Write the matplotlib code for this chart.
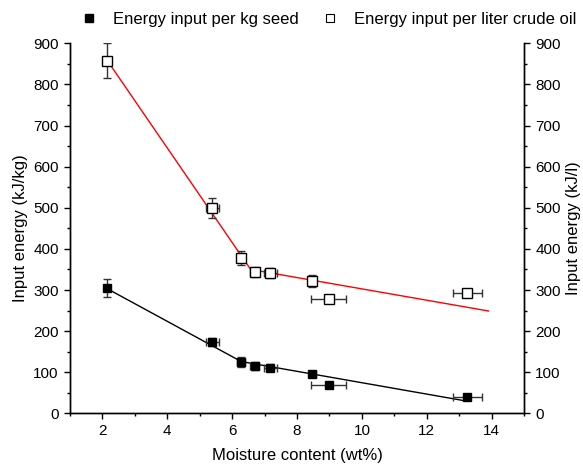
import matplotlib
matplotlib.use("Agg")
from matplotlib import pyplot as plt
from matplotlib.lines import Line2D
from matplotlib.ticker import MultipleLocator

plt.rcParams['font.family'] = ['Liberation Sans', 'DejaVu Sans']

# moisture content of the seed samples (wt%)
moisture = [2.13, 5.38, 6.28, 6.69, 7.17, 8.47, 8.97, 13.25]
moisture_err = [0.05, 0.2, 0.12, 0.15, 0.2, 0.1, 0.55, 0.45]

# energy input per kg seed (kJ/kg)
energy_kg = [304, 174, 125, 116, 111, 96, 69, 40]
energy_kg_err = [22, 10, 12, 10, 9, 7, 5, 5]

# energy input per liter crude oil (kJ/l)
energy_l = [858, 500, 378, 344, 342, 322, 277, 292]
energy_l_err = [43, 25, 17, 12, 12, 14, 8, 8]

# piecewise linear fits
fit_kg_x = [2.13, 6.28, 13.14]
fit_kg_y = [304, 126, 31]
fit_l_x = [2.1, 6.57, 13.9]
fit_l_y = [864, 350, 249]

fig = plt.figure(figsize=(5.83, 4.66), dpi=100)
ax = fig.add_axes([0.120, 0.113, 0.779, 0.794])
ax2 = ax.twinx()

ax.plot(fit_kg_x, fit_kg_y, color="black", lw=1, zorder=2)
ax.errorbar(moisture, energy_kg, yerr=energy_kg_err, xerr=moisture_err,
            fmt="s", ms=6, mfc="black", mec="black", ecolor="#333333",
            elinewidth=1, capsize=3, capthick=1, zorder=3)

ax2.plot(fit_l_x, fit_l_y, color="red", lw=1, zorder=2)
ax2.errorbar(moisture, energy_l, yerr=energy_l_err, xerr=moisture_err,
             fmt="s", ms=7.5, mfc="white", mec="black", mew=1, ecolor="#333333",
             elinewidth=1, capsize=3, capthick=1, zorder=3)

for a in (ax, ax2):
    a.set_ylim(0, 900)
    a.yaxis.set_major_locator(MultipleLocator(100))
    a.yaxis.set_minor_locator(MultipleLocator(50))
    a.spines["top"].set_visible(False)
    a.tick_params(which="major", direction="out", length=4.5, width=1, labelsize=11)
    a.tick_params(which="minor", direction="out", length=2.5, width=1)
    for s in a.spines.values():
        s.set_linewidth(1)

ax.set_xlim(1, 15)
ax.xaxis.set_major_locator(MultipleLocator(2))
ax.xaxis.set_minor_locator(MultipleLocator(1))
ax2.set_xlim(1, 15)

ax.set_xlabel("Moisture content (wt%)", fontsize=12, labelpad=7)
ax.set_ylabel("Input energy (kJ/kg)", fontsize=12, labelpad=4)
ax2.set_ylabel("Input energy (kJ/l)", fontsize=12, labelpad=4)

handles = [
    Line2D([], [], ls="none", marker="s", ms=6, mfc="black", mec="black"),
    Line2D([], [], ls="none", marker="s", ms=6, mfc="white", mec="black", mew=0.8),
]
fig.legend(handles, ["Energy input per kg seed", "Energy input per liter crude oil"],
           ncol=2, loc="center", bbox_to_anchor=(0.562, 0.959), frameon=False,
           fontsize=12, handletextpad=0.85, columnspacing=1.3, handlelength=1.2,
           borderpad=0.2)

fig.savefig("out.png", dpi=100)
